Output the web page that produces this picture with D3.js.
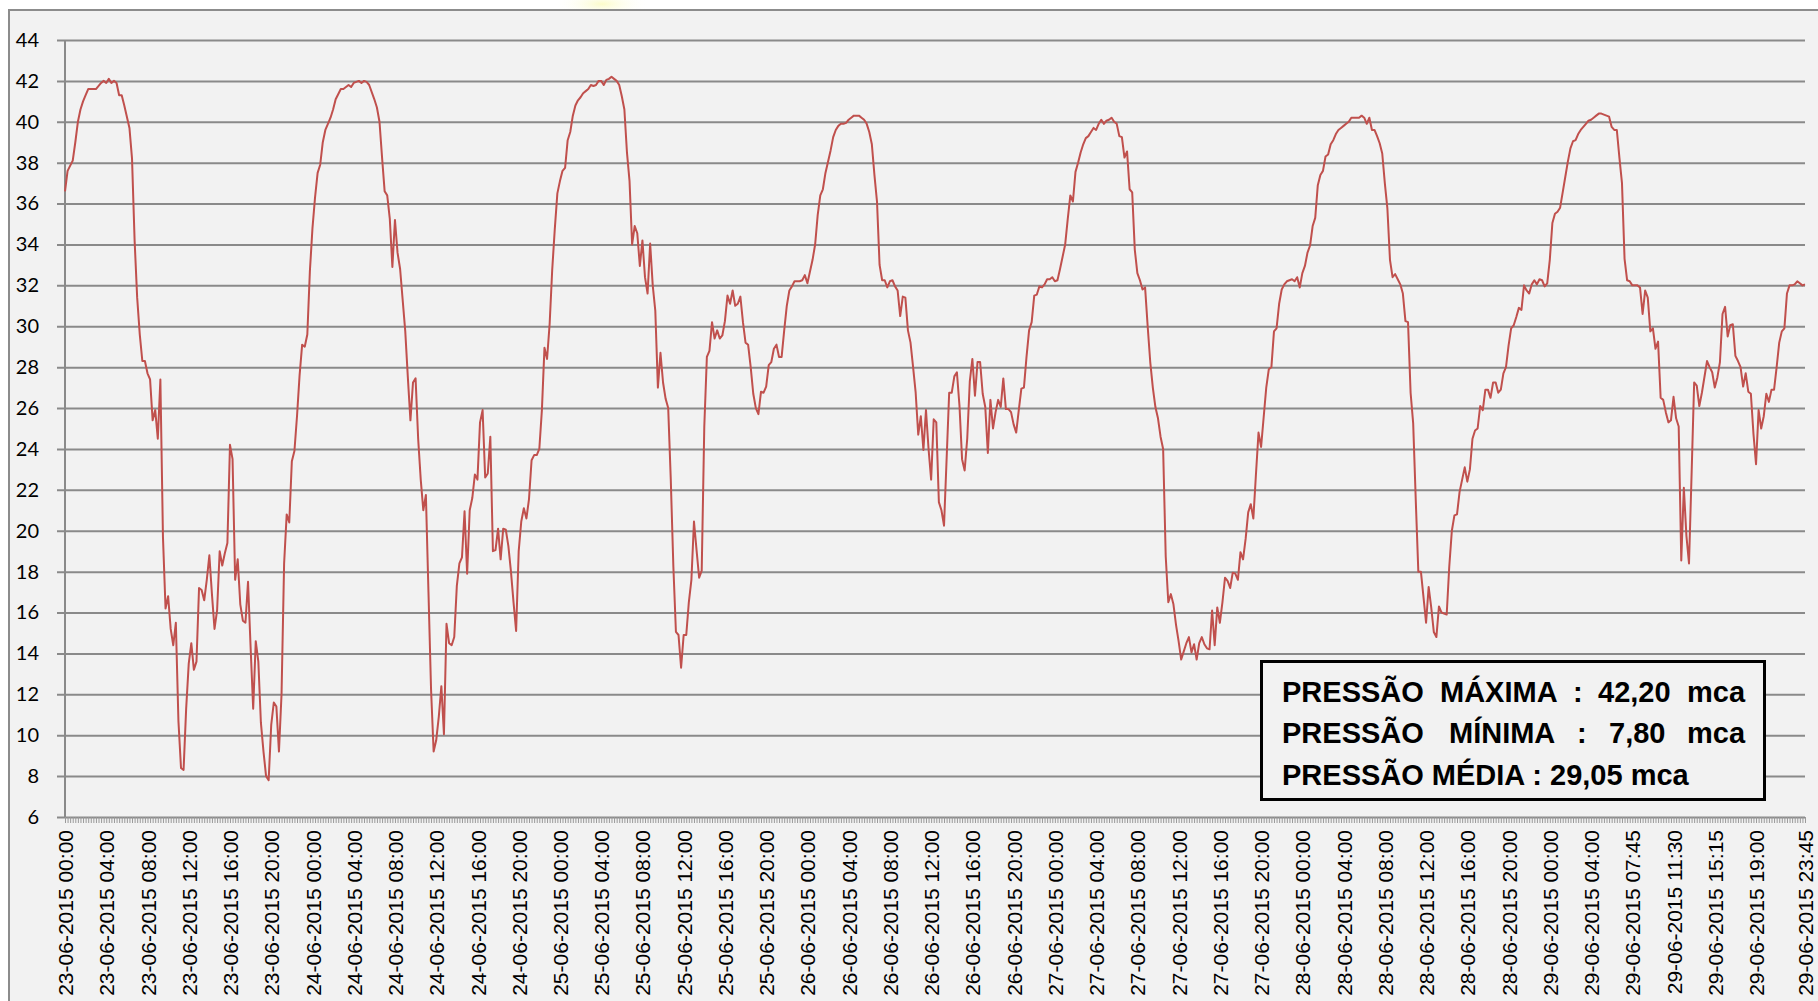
<!DOCTYPE html>
<html><head><meta charset="utf-8">
<script src="https://cdn.jsdelivr.net/npm/d3@7"></script>
<style>
html,body{margin:0;padding:0;background:#fff;}
svg{display:block;}
</style></head><body>
<svg id="chart" width="1818" height="1001"></svg>
<script>
// ---------------- data ----------------
const categoryCount = 676; // 15-minute samples, 23-06-2015 00:00 .. 29-06-2015 23:45
const tickIndex = [0,16,32,48,64,80,96,112,128,144,160,176,192,208,224,240,256,272,288,304,320,336,352,368,384,400,416,432,448,464,480,496,512,528,544,560,576,592,608,624,640,656,675];
const tickLabels = [
"23-06-2015 00:00","23-06-2015 04:00","23-06-2015 08:00","23-06-2015 12:00","23-06-2015 16:00","23-06-2015 20:00",
"24-06-2015 00:00","24-06-2015 04:00","24-06-2015 08:00","24-06-2015 12:00","24-06-2015 16:00","24-06-2015 20:00",
"25-06-2015 00:00","25-06-2015 04:00","25-06-2015 08:00","25-06-2015 12:00","25-06-2015 16:00","25-06-2015 20:00",
"26-06-2015 00:00","26-06-2015 04:00","26-06-2015 08:00","26-06-2015 12:00","26-06-2015 16:00","26-06-2015 20:00",
"27-06-2015 00:00","27-06-2015 04:00","27-06-2015 08:00","27-06-2015 12:00","27-06-2015 16:00","27-06-2015 20:00",
"28-06-2015 00:00","28-06-2015 04:00","28-06-2015 08:00","28-06-2015 12:00","28-06-2015 16:00","28-06-2015 20:00",
"29-06-2015 00:00","29-06-2015 04:00","29-06-2015 07:45","29-06-2015 11:30","29-06-2015 15:15","29-06-2015 19:00","29-06-2015 23:45"];
const yTicks = [6,8,10,12,14,16,18,20,22,24,26,28,30,32,34,36,38,40,42,44];
// [category index, pressure (mca)]
const readings = [
[0,36.6],[1,37.6],[3,38.1],[4,39.0],[5,40.0],[6,40.6],[7,41.0],[8,41.3],[9,41.6],[12,41.6],[14,41.9],[15,42.0],[16,41.9],[17,42.1],[18,41.9],[19,42.0],[20,41.9],[21,41.3],[22,41.3],[23,40.8],[25,39.7],[26,38.2],[27,34.2],[28,31.4],[29,29.6],[30,28.3],[31,28.3],[32,27.7],[33,27.4],[34,25.4],[35,25.9],[36,24.5],[37,27.4],[38,19.7],[39,16.2],[40,16.8],[41,15.2],[42,14.4],[43,15.5],[44,10.7],[45,8.4],[46,8.3],[47,11.3],[48,13.5],[49,14.5],[50,13.2],[51,13.6],[52,17.2],[53,17.1],[54,16.6],[55,17.6],[56,18.8],[57,16.9],[58,15.2],[59,16.1],[60,19.0],[61,18.3],[62,18.9],[63,19.4],[64,24.2],[65,23.5],[66,17.6],[67,18.6],[68,16.4],[69,15.6],[70,15.5],[71,17.5],[72,14.3],[73,11.3],[74,14.6],[75,13.6],[76,10.6],[77,9.2],[78,8.0],[79,7.8],[80,10.5],[81,11.6],[82,11.4],[83,9.2],[84,12.0],[85,18.4],[86,20.8],[87,20.4],[88,23.4],[89,23.9],[90,25.6],[91,27.6],[92,29.1],[93,29.0],[94,29.6],[95,32.7],[96,34.8],[97,36.3],[98,37.5],[99,37.9],[100,39.0],[101,39.6],[102,39.9],[103,40.2],[104,40.6],
[105,41.1],[107,41.6],[108,41.6],[110,41.8],[111,41.7],[112,41.9],[114,42.0],[115,41.9],[116,42.0],[117,41.95],[118,41.8],[120,41.1],[121,40.7],[122,40.0],[123,38.25],[124,36.6],[125,36.4],[126,35.25],[127,32.9],[128,35.2],[129,33.6],[130,32.8],[132,29.75],[133,27.5],[134,25.4],[135,27.25],[136,27.45],[137,24.5],[138,22.5],[139,21.0],[140,21.75],[141,17.0],[142,12.25],[143,9.2],[144,9.75],[145,10.9],[146,12.4],[147,10.05],[148,15.45],[149,14.5],[150,14.4],[151,14.8],[152,17.3],[153,18.4],[154,18.7],[155,20.95],[156,17.9],[157,21.0],[158,21.6],[159,22.75],[160,22.5],[161,25.3],[162,25.9],[163,22.6],[164,22.8],[165,24.6],[166,19.0],[167,19.05],[168,20.1],[169,18.6],[170,20.1],[171,20.05],[172,19.25],[173,18.0],[174,16.5],[175,15.1],[176,19.0],[177,20.45],[178,21.1],[179,20.6],[180,21.55],[181,23.45],[182,23.7],[183,23.7],[184,24.0],[185,25.9],[186,28.95],[187,28.4],[188,30.1],[189,32.75],[190,34.75],[191,36.5],[192,37.1],[193,37.6],[194,37.75],[195,39.1],[196,39.5],[197,40.3],[198,40.8],[199,41.05],[200,41.2],[201,41.4],[202,41.5],[203,41.6],[204,41.8],[205,41.75],[206,41.8],[207,42.0],[208,42.0],[209,41.8],[210,42.05],[211,42.1],[212,42.2],[213,42.1],[214,42.0],[215,41.8],
[216,41.25],[217,40.6],[218,38.5],[219,37.1],[220,34.0],[221,34.9],[222,34.55],[223,32.95],[224,34.2],[225,32.4],[226,31.6],[227,34.05],[228,32.0],[229,30.75],[230,27.0],[231,28.7],[232,27.25],[233,26.45],[234,26.0],[235,22.5],[236,18.25],[237,15.05],[238,14.9],[239,13.3],[240,14.9],[241,14.9],[242,16.5],[243,17.6],[244,20.45],[245,19.05],[246,17.7],[247,18.05],[248,25.1],[249,28.5],[250,28.8],[251,30.2],[252,29.4],[253,29.8],[254,29.4],[255,29.55],[256,30.25],[257,31.5],[258,31.1],[259,31.75],[260,31.0],[261,31.1],[262,31.45],[263,30.2],[264,29.2],[265,29.1],[266,28.0],[267,26.7],[268,26.0],[269,25.7],[270,26.8],[271,26.75],[272,27.05],[273,28.1],[274,28.25],[275,28.9],[276,29.1],[277,28.5],[278,28.5],[279,29.8],[280,31.0],[281,31.75],[282,31.95],[283,32.2],[284,32.2],[285,32.2],[286,32.25],[287,32.5],[288,32.1],[290,33.25],[291,34.0],[292,35.45],[293,36.4],[294,36.7],[295,37.5],[296,38.05],[297,38.6],[298,39.25],[299,39.6],[300,39.8],[301,39.9],[302,39.9],[303,39.95],[304,40.1],[305,40.2],[306,40.3],[307,40.3],[308,40.3],[309,40.2],[310,40.1],[311,39.9],[312,39.5],[313,38.9],[314,37.4],[315,36.1],[316,33.0],[317,32.25],[318,32.25],[319,31.9],[320,32.2],[321,32.25],[322,31.95],[323,31.75],[324,30.5],[325,31.45],[326,31.4],[327,29.8],[328,29.2],[329,28.0],[330,26.75],[331,24.7],
[332,25.6],[333,23.95],[334,25.9],[335,24.0],[336,22.5],[337,25.45],[338,25.3],[339,21.4],[340,21.0],[341,20.25],[342,23.5],[343,26.75],[344,26.75],[345,27.55],[346,27.75],[347,26.1],[348,23.5],[349,22.95],[350,24.5],[351,27.3],[352,28.4],[353,26.6],[354,28.25],[355,28.25],[356,26.7],[357,26.05],[358,23.8],[359,26.4],[360,25.0],[361,25.8],[362,26.4],[363,26.05],[364,27.45],[365,25.95],[366,25.95],[367,25.8],[368,25.2],[369,24.8],[370,25.9],[371,26.95],[372,27.0],[373,28.5],[374,29.8],[375,30.2],[376,31.5],[377,31.55],[378,31.95],[379,31.9],[380,32.05],[381,32.3],[382,32.3],[383,32.4],[384,32.2],[385,32.25],[386,32.8],[387,33.4],[388,34.0],[389,35.25],[390,36.4],[391,36.1],[392,37.55],[393,38.0],[394,38.5],[395,38.9],[396,39.2],[397,39.3],[398,39.5],[399,39.7],[400,39.6],[401,39.9],[402,40.1],[403,39.9],[404,40.05],[405,40.1],[406,40.2],[407,40.0],[408,39.9],[409,39.3],[410,39.25],[411,38.25],[412,38.55],[413,36.7],[414,36.55],[415,33.75],[416,32.6],[417,32.25],[418,31.8],[419,31.9],[420,30.0],[421,28.25],[422,27.0],[423,26.05],[424,25.5],[425,24.6],[426,24.0],[427,18.75],[428,16.5],[429,16.9],[430,16.4],[431,15.4],[432,14.6],[433,13.7],[434,14.1],[435,14.5],[436,14.8],[437,14.05],[438,14.45],[439,13.7],[440,14.5],[441,14.8],[442,14.45],[443,14.25],
[444,14.2],[445,16.1],[446,14.4],[447,16.25],[448,15.5],[449,16.5],[450,17.7],[451,17.55],[452,17.2],[453,17.95],[454,17.9],[455,17.6],[456,18.95],[457,18.6],[458,19.6],[459,20.9],[460,21.3],[461,20.6],[462,22.75],[463,24.8],[464,24.1],[465,25.55],[466,27.0],[467,27.9],[468,28.0],[469,29.75],[470,29.9],[471,31.1],[472,31.8],[473,32.05],[474,32.2],[475,32.25],[476,32.3],[477,32.2],[478,32.4],[479,31.9],[480,32.6],[481,32.95],[482,33.6],[483,33.95],[484,34.9],[485,35.3],[486,36.9],[487,37.4],[488,37.6],[489,38.3],[490,38.4],[491,38.9],[492,39.1],[493,39.4],[494,39.6],[495,39.7],[496,39.8],[497,39.9],[498,40.0],[499,40.2],[500,40.2],[501,40.2],[502,40.2],[503,40.3],[504,40.2],[505,39.9],[506,40.2],[507,39.6],[508,39.6],[509,39.3],[510,38.95],[511,38.45],[512,37.0],[513,35.75],[514,33.25],[515,32.4],[516,32.55],[517,32.3],[518,32.05],[519,31.6],[520,30.25],[521,30.2],[522,26.75],[523,25.25],[524,21.5],[525,18.0],[526,18.0],[527,16.75],[528,15.5],[529,17.25],[530,16.25],[531,15.05],[532,14.8],[533,16.3],[534,16.0],[536,15.9],[537,18.25],[538,20.0],[539,20.75],[540,20.8],[541,21.9],[542,22.5],[543,23.1],[544,22.4],[545,23.0],[546,24.5],[547,24.9],[548,25.0],[549,26.1],[550,25.9],[551,26.9],[552,26.9],[553,26.5],[554,27.25],[555,27.25],[556,26.75],
[557,26.9],[558,27.7],[559,28.0],[560,29.05],[561,29.9],[562,30.05],[563,30.45],[564,30.9],[565,30.8],[566,32.0],[567,31.75],[568,31.6],[569,32.05],[570,32.25],[571,32.05],[572,32.3],[573,32.25],[574,31.95],[575,32.1],[576,33.25],[577,35.05],[578,35.5],[579,35.6],[580,35.8],[581,36.55],[582,37.3],[583,38.05],[584,38.7],[585,39.05],[586,39.1],[587,39.4],[588,39.6],[589,39.75],[590,39.9],[591,40.05],[592,40.1],[593,40.2],[594,40.3],[595,40.4],[596,40.4],[597,40.35],[598,40.3],[599,40.25],[600,39.75],[601,39.6],[602,39.6],[603,38.25],[604,37.0],[605,33.3],[606,32.25],[607,32.2],[608,32.0],[609,32.0],[610,32.0],[611,31.9],[612,30.6],[613,31.75],[614,31.4],[615,29.75],[616,29.9],[617,28.9],[618,29.25],[619,26.5],[620,26.4],[621,25.8],[622,25.3],[623,25.4],[624,26.55],[625,25.5],[626,25.1],[627,18.55],[628,22.1],[629,19.75],[630,18.4],[631,22.75],[632,27.25],[633,27.1],[634,26.1],[635,26.75],[637,28.3],[638,28.0],[639,27.75],[640,27.0],[641,27.5],[642,28.25],[643,30.6],[644,30.95],[645,29.5],[646,30.05],[647,30.1],[648,28.55],[649,28.3],[650,28.0],[651,27.05],[652,27.7],[653,26.8],[654,26.7],[655,24.75],[656,23.25],[657,25.9],[658,25.0],[659,25.6],[660,26.7],[661,26.3],[662,26.9],[663,26.9],[664,28.0],[665,29.2],[666,29.75],[667,29.9],[668,31.6],[669,32.0],[670,32.0],[671,32.05],[672,32.2],[673,32.1],[674,32.0],[675,32.05]
];
const statNames = ["MÁXIMA","MÍNIMA","MÉDIA"];
const statValues = ["42,20","7,80","29,05"];
const statUnit = "mca";

// ---------------- layout ----------------
const svg = d3.select("#chart");
const P = {left:65, right:1805, top:40, bottom:817};
const x = d3.scaleLinear().domain([0, categoryCount-1]).range([P.left, P.right]);
const y = d3.scaleLinear().domain([6,44]).range([P.bottom, P.top]);

// faint yellow glow above the frame
const defs = svg.append("defs");
const rg = defs.append("radialGradient").attr("id","glow");
rg.append("stop").attr("offset","0%").attr("stop-color","#fbfbc4").attr("stop-opacity",0.9);
rg.append("stop").attr("offset","100%").attr("stop-color","#ffffff").attr("stop-opacity",0);
svg.append("ellipse").attr("cx",602).attr("cy",4).attr("rx",48).attr("ry",14).attr("fill","url(#glow)");

// frame
svg.append("rect").attr("x",9).attr("y",10).attr("width",1830).attr("height",1010)
  .attr("fill","#f2f2f2").attr("stroke","#8c8c8c").attr("stroke-width",2);

// gridlines + y labels
const tickOut = 8;
const gy = svg.append("g").attr("transform",`translate(${P.right},0)`)
  .call(d3.axisLeft(y).tickValues(yTicks).tickSize(P.right-P.left+tickOut).tickPadding(18).tickFormat(d=>d));
gy.select(".domain").remove();
gy.selectAll("line").attr("stroke","#8a8a8a").attr("stroke-width",2);
gy.selectAll("text").attr("font-family","Lato, 'Open Sans', sans-serif").attr("font-size",20).attr("fill","#000");

// y axis line
svg.append("line").attr("x1",P.left).attr("x2",P.left).attr("y1",y(44)).attr("y2",y(6))
  .attr("stroke","#8a8a8a").attr("stroke-width",2);

// category tick marks
const gt = svg.append("g").attr("transform",`translate(0,${P.bottom})`)
  .call(d3.axisBottom(x).tickValues(d3.range(categoryCount)).tickSize(6).tickFormat(""));
gt.select(".domain").remove();
gt.selectAll("line").attr("stroke","#9a9a9a").attr("stroke-width",1);

// category labels
const gx = svg.append("g").attr("transform",`translate(0,${P.bottom})`)
  .call(d3.axisBottom(x).tickValues(tickIndex).tickSize(0).tickFormat((d,i)=>tickLabels[i]));
gx.select(".domain").remove();
gx.selectAll("text")
  .attr("transform","rotate(-90)")
  .attr("x",-13).attr("y",0).attr("dy","0.36em")
  .style("text-anchor","end")
  .attr("font-family","'Liberation Sans', Arial, sans-serif").attr("font-size",21).attr("fill","#000");

// series line
svg.append("path").datum(readings)
  .attr("d", d3.line().x(d=>x(d[0])).y(d=>y(d[1])))
  .attr("fill","none").attr("stroke","#c0504d").attr("stroke-width",2)
  .attr("stroke-linejoin","round");

// stats box
svg.append("rect").attr("x",1261.5).attr("y",661.5).attr("width",503).attr("height",138)
  .attr("fill","#f2f2f2").attr("stroke","#000").attr("stroke-width",3);
const box = svg.append("g").attr("font-family","'Liberation Sans', Arial, sans-serif")
  .attr("font-weight","bold").attr("font-size",29).attr("fill","#000");
const rowY = [702, 743, 785];
const colX = [[1282,1440,1573,1598,1687],[1282,1449,1577,1609,1687]];
[0,1].forEach(r=>{
  const t = box.append("text").attr("y",rowY[r]);
  const parts = ["PRESSÃO", statNames[r], ":", statValues[r], statUnit];
  parts.forEach((p,k)=> t.append("tspan").attr("x",colX[r][k]).text(p));
});
box.append("text").attr("x",1282).attr("y",rowY[2])
  .text(`PRESSÃO ${statNames[2]} : ${statValues[2]} ${statUnit}`);
</script>
</body></html>
